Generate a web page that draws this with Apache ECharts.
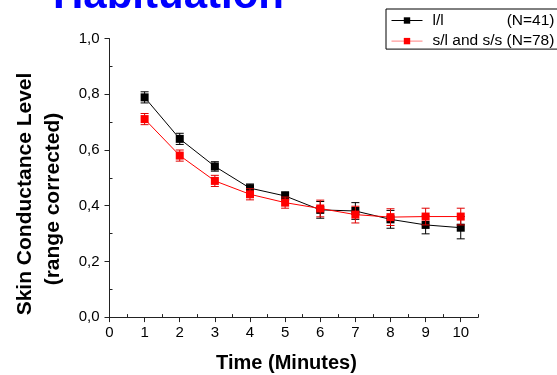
<!DOCTYPE html>
<html>
<head>
<meta charset="utf-8">
<script src="https://cdn.jsdelivr.net/npm/echarts@6/dist/echarts.min.js"></script>
<style>
html,body{margin:0;padding:0;background:#fff;}
#chart{width:557px;height:375px;}
</style>
</head>
<body>
<div id="chart"></div>
<script>
const timeMinutes = [1, 2, 3, 4, 5, 6, 7, 8, 9, 10];
const llMeans = [0.789, 0.640, 0.541, 0.463, 0.435, 0.385, 0.381, 0.351, 0.331, 0.321];
const llErrors = [0.020, 0.020, 0.017, 0.015, 0.015, 0.030, 0.030, 0.032, 0.032, 0.040];
const slssMeans = [0.711, 0.580, 0.489, 0.441, 0.411, 0.390, 0.368, 0.359, 0.361, 0.361];
const slssErrors = [0.020, 0.020, 0.020, 0.020, 0.020, 0.030, 0.030, 0.030, 0.030, 0.030];
const xTickValues = [0, 1, 2, 3, 4, 5, 6, 7, 8, 9, 10];
const xMinorTickValues = [0.5, 1.5, 2.5, 3.5, 4.5, 5.5, 6.5, 7.5, 8.5, 9.5, 10.5];
const yTickValues = [0, 0.2, 0.4, 0.6, 0.8, 1.0];
const yMinorTickValues = [0.1, 0.3, 0.5, 0.7, 0.9];
const seriesNames = ['l/l', 's/l and s/s'];

const FONT = '"Liberation Sans", Arial, sans-serif';

function errData(means, errs) {
  return timeMinutes.map((t, i) => [t, means[i] - errs[i], means[i] + errs[i]]);
}
function errRender(color) {
  return function (params, api) {
    const x = api.value(0);
    const lo = api.coord([x, api.value(1)]);
    const hi = api.coord([x, api.value(2)]);
    const w = 4;
    const st = { stroke: color, lineWidth: 1 };
    return {
      type: 'group',
      children: [
        { type: 'line', shape: { x1: hi[0], y1: hi[1], x2: lo[0], y2: lo[1] }, style: st },
        { type: 'line', shape: { x1: hi[0] - w, y1: hi[1], x2: hi[0] + w, y2: hi[1] }, style: st },
        { type: 'line', shape: { x1: lo[0] - w, y1: lo[1], x2: lo[0] + w, y2: lo[1] }, style: st }
      ]
    };
  };
}
const commaFmt = v => Number(v).toFixed(1).replace('.', ',');

const chart = echarts.init(document.getElementById('chart'), null, { renderer: 'canvas' });
chart.setOption({
  animation: false,
  backgroundColor: '#fff',
  textStyle: { fontFamily: FONT },
  graphic: [
    {
      type: 'text', left: 53, top: -25, z: 10,
      style: { text: 'Habituation', fill: '#0000ff', font: 'bold 42px ' + FONT }
    },
    {
      type: 'text', x: 25, y: 194, rotation: Math.PI / 2, z: 10,
      style: { text: 'Skin Conductance Level', fill: '#000', font: 'bold 21px ' + FONT, align: 'center', verticalAlign: 'middle' }
    },
    {
      type: 'text', x: 53, y: 199, rotation: Math.PI / 2, z: 10,
      style: { text: '(range corrected)', fill: '#000', font: 'bold 21px ' + FONT, align: 'center', verticalAlign: 'middle' }
    },
    {
      type: 'text', x: 286.5, y: 363, z: 10,
      style: { text: 'Time (Minutes)', fill: '#000', font: 'bold 20px ' + FONT, align: 'center', verticalAlign: 'middle' }
    }
  ],
  legend: {
    orient: 'vertical',
    left: 386, top: 9,
    padding: [3.5, 20, 0, 5],
    borderColor: '#000', borderWidth: 1,
    itemWidth: 31, itemHeight: 8, itemGap: 4.6,
    lineStyle: { width: 1 },
    data: [
      { name: seriesNames[0], lineStyle: { color: '#000', width: 1 } },
      { name: seriesNames[1], lineStyle: { color: '#ff8080', width: 1 } }
    ],
    formatter: function (name) {
      if (name === seriesNames[0]) return '{a|l/l}{b|(N=41)}';
      return '{c|s/l and s/s (N=78)}';
    },
    textStyle: {
      fontFamily: FONT, fontSize: 15.5, color: '#000', lineHeight: 16, padding: [0, 0, 0, 5],
      rich: {
        a: { fontSize: 15.5, width: 30, lineHeight: 16, fontFamily: FONT },
        b: { fontSize: 15.5, width: 92, align: 'right', lineHeight: 16, fontFamily: FONT },
        c: { fontSize: 15.5, lineHeight: 16, fontFamily: FONT }
      }
    }
  },
  grid: { left: 109.5, right: 78.7, top: 38.6, bottom: 57.9, containLabel: false },
  xAxis: [
    {
      type: 'value', min: 0, max: 10.5,
      axisLine: { show: true, onZero: false, lineStyle: { color: '#222', width: 1 } },
      axisTick: { show: true, customValues: xTickValues, length: 5, lineStyle: { color: '#222' } },
      axisLabel: { customValues: xTickValues, fontSize: 15, color: '#000', margin: 8, fontFamily: FONT },
      splitLine: { show: false }
    },
    {
      type: 'value', min: 0, max: 10.5, position: 'bottom',
      axisLine: { show: false },
      axisTick: { show: true, inside: true, customValues: xMinorTickValues, length: 3, lineStyle: { color: '#222' } },
      axisLabel: { show: false },
      splitLine: { show: false }
    }
  ],
  yAxis: [
    {
      type: 'value', min: 0, max: 1.0, interval: 0.2,
      axisLine: { show: true, onZero: false, lineStyle: { color: '#222', width: 1 } },
      axisTick: { show: true, customValues: yTickValues, length: 5, lineStyle: { color: '#222' } },
      axisLabel: { customValues: yTickValues, formatter: commaFmt, fontSize: 15, color: '#000', margin: 10, fontFamily: FONT },
      splitLine: { show: false }
    },
    {
      type: 'value', min: 0, max: 1.0, position: 'left',
      axisLine: { show: false },
      axisTick: { show: true, inside: true, customValues: yMinorTickValues, length: 3, lineStyle: { color: '#222' } },
      axisLabel: { show: false },
      splitLine: { show: false }
    }
  ],
  series: [
    {
      type: 'custom', name: 'llErr', renderItem: errRender('#000'),
      data: errData(llMeans, llErrors), encode: { x: 0, y: [1, 2] }, z: 2, silent: true
    },
    {
      type: 'line', name: seriesNames[0],
      data: timeMinutes.map((t, i) => [t, llMeans[i]]),
      symbol: 'rect', symbolSize: 8,
      lineStyle: { color: '#000', width: 1 },
      itemStyle: { color: '#000' }, z: 3
    },
    {
      type: 'custom', name: 'slssErr', renderItem: errRender('#e00000'),
      data: errData(slssMeans, slssErrors), encode: { x: 0, y: [1, 2] }, z: 4, silent: true
    },
    {
      type: 'line', name: seriesNames[1],
      data: timeMinutes.map((t, i) => [t, slssMeans[i]]),
      symbol: 'rect', symbolSize: 8,
      lineStyle: { color: '#ff0000', width: 1 },
      itemStyle: { color: '#ff0000' }, z: 5
    }
  ]
});
</script>
</body>
</html>
